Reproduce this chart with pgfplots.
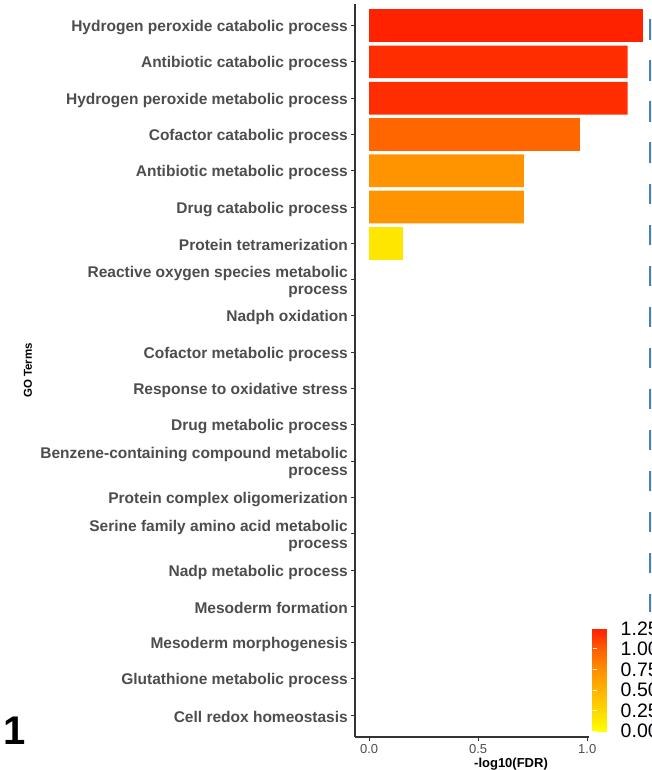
\documentclass[border=0pt]{standalone}
\usepackage{pgfplots}
\pgfplotsset{compat=1.18}
\usepackage{fontspec}
\setmainfont{Liberation Sans}

\definecolor{lab}{HTML}{4D4D4D}
\definecolor{axl}{HTML}{333333}
\definecolor{cutoff}{HTML}{4682B4}
\definecolor{b1}{HTML}{FF2200}
\definecolor{b2}{HTML}{FF2D00}
\definecolor{b4}{HTML}{FF6600}
\definecolor{b5}{HTML}{FF9400}
\definecolor{b7}{HTML}{FFE600}

\begin{document}
\begin{tikzpicture}
\useasboundingbox (0,0) rectangle (651pt,770pt);
\clip (0,0) rectangle (651pt,770pt);
\begin{axis}[
    at={(355pt,33pt)}, anchor=south west,
    scale only axis, width=312pt, height=733.2pt,
    xmin=-0.065, xmax=1.366,
    ymin=0.4, ymax=20.6, y dir=reverse,
    xbar, bar width=0.9, bar shift=0pt,
    clip=false,
    axis lines*=left,
    axis line style={axl, line width=1.5pt, -},
    tick style={axl, line width=1pt},
    major tick length=4pt, tick align=outside,
    xtick={0,0.5,1},
    xticklabel style={lab, font=\fontsize{13}{13}\selectfont,
        /pgf/number format/.cd, fixed, fixed zerofill, precision=1, assume math mode=true},
    ytick={1,...,20},
    yticklabels={
        Hydrogen peroxide catabolic process,
        Antibiotic catabolic process,
        Hydrogen peroxide metabolic process,
        Cofactor catabolic process,
        Antibiotic metabolic process,
        Drug catabolic process,
        Protein tetramerization,
        {Reactive oxygen species metabolic\\process},
        Nadph oxidation,
        Cofactor metabolic process,
        Response to oxidative stress,
        Drug metabolic process,
        {Benzene-containing compound metabolic\\process},
        Protein complex oligomerization,
        {Serine family amino acid metabolic\\process},
        Nadp metabolic process,
        Mesoderm formation,
        Mesoderm morphogenesis,
        Glutathione metabolic process,
        Cell redox homeostasis},
    yticklabel style={lab, align=right, anchor=east, inner sep=0pt, xshift=-3pt, yshift=-2pt,
        font=\fontsize{15.5}{17}\selectfont\bfseries},
    xlabel={-log10(FDR)},
    xlabel style={at={(axis description cs:0.5,0)}, anchor=center, yshift=-27pt,
        font=\fontsize{13}{13}\selectfont\bfseries},
    ylabel={GO Terms},
    ylabel style={at={(axis description cs:0,0.5)}, anchor=center, yshift=327pt,
        font=\fontsize{11.5}{12}\selectfont\bfseries},
    colormap={fdr}{rgb255(0cm)=(255,255,0) rgb255(12cm)=(255,230,0)
        rgb255(57cm)=(255,148,0) rgb255(77cm)=(255,102,0)
        rgb255(94.5cm)=(255,45,0) rgb255(100cm)=(255,34,0)},
    point meta min=0, point meta max=1.254,
    colorbar,
    colorbar style={
        at={(parent axis.south west)}, anchor=south west,
        xshift=229pt, yshift=6pt,
        scale only axis, width=29pt, height=103pt,
        xmin=0, xmax=1,
        ytick={0,0.25,0.5,0.75,1,1.25},
        axis line style={draw=none},
        tick style={white, line width=0.8pt},
        major tick length=4pt, tick align=inside,
        ytick pos=both, yticklabel pos=right,
        yticklabel style={black, anchor=west, inner sep=0pt, xshift=-1pt,
            font=\fontsize{19.5}{20}\selectfont,
            /pgf/number format/.cd, fixed, fixed zerofill, precision=2, assume math mode=true},
    },
]
\addplot[fill=b1, draw=none] coordinates {(1.254,1)};
\addplot[fill=b2, draw=none] coordinates {(1.185,2) (1.185,3)};
\addplot[fill=b4, draw=none] coordinates {(0.968,4)};
\addplot[fill=b5, draw=none] coordinates {(0.710,5) (0.710,6)};
\addplot[fill=b7, draw=none] coordinates {(0.154,7)};
\addplot[fill=white, draw=none] coordinates {
    (0,8) (0,9) (0,10) (0,11) (0,12) (0,13) (0,14)
    (0,15) (0,16) (0,17) (0,18) (0,19) (0,20)};
% significance cutoff, -log10(0.05)
\draw[cutoff, line width=7pt, dash pattern=on 20.5pt off 20.5pt]
    (axis cs:1.301,20.6) -- (axis cs:1.301,0.4);
% legend background
\fill[white] (axis cs:1.006,17.15) rectangle (axis cs:1.6,20.67);
\end{axis}
\node[anchor=base west, inner sep=0pt, font=\fontsize{40}{40}\selectfont\bfseries]
    at (3pt,25pt) {1};
\end{tikzpicture}
\end{document}
